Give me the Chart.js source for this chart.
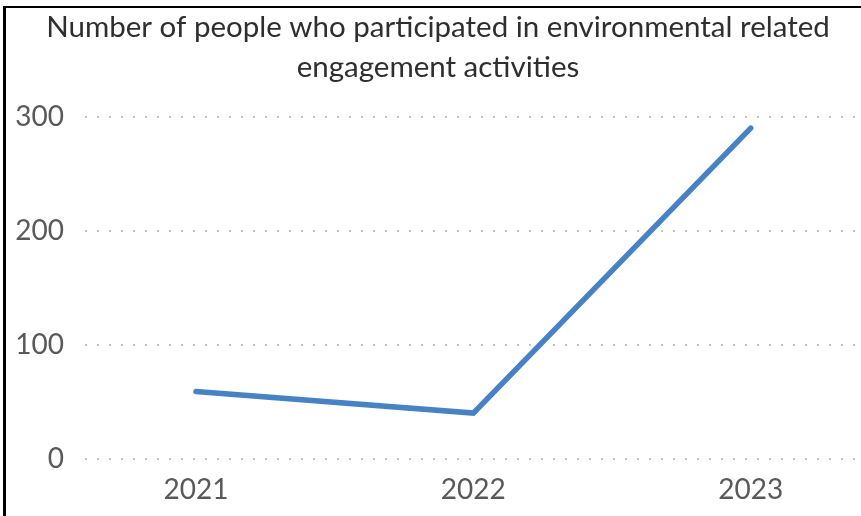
<!DOCTYPE html>
<html>
<head>
<meta charset="utf-8">
<script src="https://cdn.jsdelivr.net/npm/chart.js@4/dist/chart.umd.min.js"></script>
<style>
  html, body { margin: 0; padding: 0; background: #ffffff; overflow: hidden; }
  body { width: 861px; height: 516px; position: relative; }
  #frame {
    position: absolute; left: 3px; top: 6px;
    border-left: 3px solid #000; border-top: 2px solid #000;
    width: 864px; height: 508px;
  }
  #chart { display: block; }
</style>
</head>
<body>
<div id="frame"><canvas id="chart" width="864" height="508"></canvas></div>
<script>
// Participation in environmental engagement activities, by year
const titleLines = ['Number of people who participated in environmental related', 'engagement activities'];
const years = ['2021', '2022', '2023'];
const participants = [59, 40, 290];
const yTicks = [0, 100, 200, 300];

const FONT = 'Lato, "Open Sans", sans-serif';

const points = years.map((y, i) => ({ x: Number(y), y: participants[i] }));

new Chart(document.getElementById('chart'), {
  type: 'line',
  data: {
    datasets: [{
      label: titleLines.join(' '),
      data: points,
      borderColor: '#4682C4',
      backgroundColor: '#4682C4',
      borderWidth: 5.5,
      borderCapStyle: 'round',
      borderJoinStyle: 'miter',
      pointRadius: 0,
      pointHoverRadius: 0,
      tension: 0,
      fill: false
    }]
  },
  options: {
    responsive: false,
    animation: false,
    layout: { padding: 0 },
    plugins: {
      legend: { display: false },
      tooltip: { enabled: false },
      title: {
        display: true,
        text: titleLines,
        color: '#2e2e2e',
        font: { family: FONT, size: 29.5, weight: 'normal', lineHeight: 1.333 },
        padding: { top: 0, bottom: 30 }
      }
    },
    scales: {
      x: {
        type: 'linear',
        min: 2020.6,
        max: 2023.43,
        afterBuildTicks: (scale) => { scale.ticks = years.map(y => ({ value: Number(y) })); },
        afterFit: (scale) => { scale.height = 57.3; },
        grid: { display: false, drawTicks: false },
        border: { display: false },
        ticks: {
          color: '#595959',
          font: { family: FONT, size: 28 },
          padding: 14,
          maxRotation: 0,
          callback: (v) => String(v)
        }
      },
      y: {
        min: 0,
        max: 300,
        afterBuildTicks: (scale) => { scale.ticks = yTicks.map(v => ({ value: v })); },
        afterFit: (scale) => { scale.width = 79; },
        grid: {
          color: '#c4c4c4',
          lineWidth: 2,
          drawTicks: false
        },
        border: { display: false, dash: [2, 10] },
        ticks: {
          color: '#595959',
          font: { family: FONT, size: 28 },
          padding: 21
        }
      }
    }
  }
});
</script>
</body>
</html>
